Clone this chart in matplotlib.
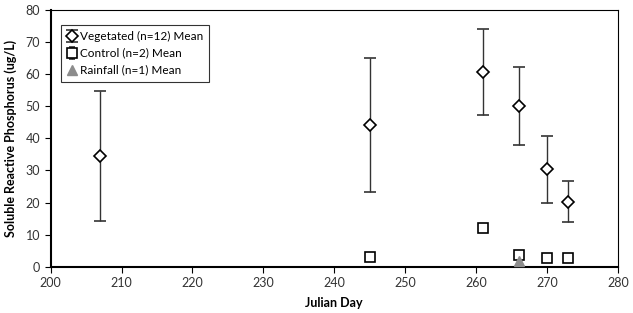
import numpy as np
import matplotlib.pyplot as plt

plt.rcParams['font.family'] = ['Lato', 'DejaVu Sans']

# data
veg_day = [207, 245, 261, 266, 270, 273]
veg_mean = [34.5, 44.2, 60.6, 50.1, 30.3, 20.3]
veg_err = [20.3, 20.8, 13.4, 12.1, 10.5, 6.3]

ctl_day = [245, 261, 266, 270, 273]
ctl_mean = [3.0, 12.1, 3.7, 2.6, 2.6]
ctl_err = [0.0, 0.6, 1.0, 0.0, 0.0]

rain_day = [266]
rain_mean = [1.8]

fig, ax = plt.subplots(figsize=(6.33, 3.13), dpi=100)
fig.subplots_adjust(left=0.08, right=0.976, top=0.968, bottom=0.148)

h1 = ax.errorbar(veg_day, veg_mean, yerr=veg_err, fmt='D', ms=6, mfc='white', mec='black',
                 mew=1.2, ecolor='#333333', elinewidth=1, capsize=4, capthick=1,
                 label='Vegetated (n=12) Mean', zorder=3)
h2 = ax.errorbar(ctl_day, ctl_mean, yerr=ctl_err, fmt='s', ms=7.5, mfc='white', mec='black',
                 mew=1.2, ecolor='#333333', elinewidth=1, capsize=2.5, capthick=1,
                 label='Control (n=2) Mean', zorder=3)
h3, = ax.plot(rain_day, rain_mean, '^', ms=7, color='#8c8c8c', label='Rainfall (n=1) Mean', zorder=4)

ax.set_xlim(200, 280)
ax.set_ylim(0, 80)
ax.set_xticks(np.arange(200, 281, 10))
ax.set_yticks(np.arange(0, 81, 10))
ax.tick_params(labelsize=9, length=4, direction='out', color='black', colors='#333333')
for s in ax.spines.values():
    s.set_linewidth(0.8)
ax.spines['bottom'].set_linewidth(1.5)
ax.spines['left'].set_linewidth(1.5)

ax.set_xlabel('Julian Day', fontsize=9, fontweight='bold', labelpad=6)
ax.set_ylabel('Soluble Reactive Phosphorus (ug/L)', fontsize=9, fontweight='bold', labelpad=6)

leg = ax.legend([h1, h2, h3], ['Vegetated (n=12) Mean', 'Control (n=2) Mean', 'Rainfall (n=1) Mean'],
                loc='upper left', fontsize=8.5, frameon=True, fancybox=False,
                edgecolor='black', handlelength=0.8, handletextpad=0.3,
                borderpad=0.5, labelspacing=0.5, bbox_to_anchor=(0.008, 0.965))
leg.get_frame().set_linewidth(0.8)

fig.savefig('out.png', dpi=100)
